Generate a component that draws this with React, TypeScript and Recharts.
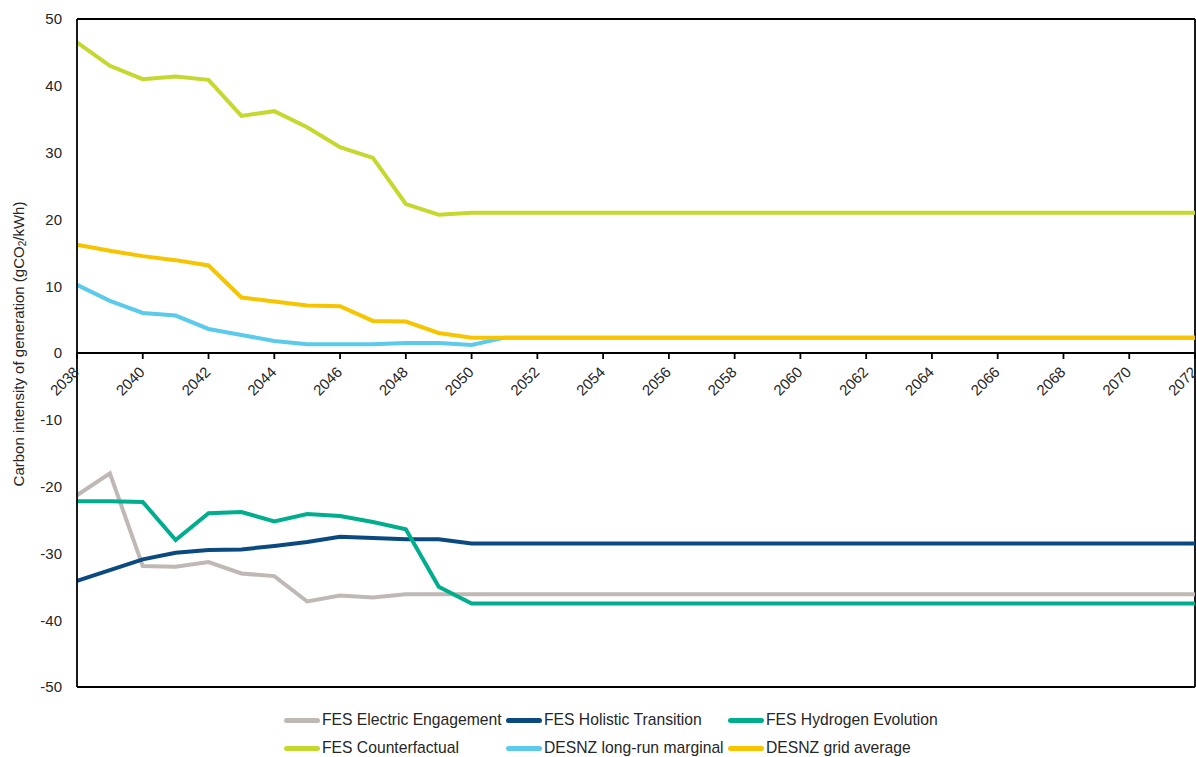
import React from 'react';
import { LineChart, Line, XAxis, YAxis, ReferenceLine, Legend } from 'recharts';

const years = [
  2038, 2039, 2040, 2041, 2042, 2043, 2044, 2045, 2046, 2047, 2048, 2049,
  2050, 2051, 2052, 2053, 2054, 2055, 2056, 2057, 2058, 2059, 2060, 2061,
  2062, 2063, 2064, 2065, 2066, 2067, 2068, 2069, 2070, 2071, 2072,
];
const yearTicks = [
  2038, 2040, 2042, 2044, 2046, 2048, 2050, 2052, 2054, 2056, 2058, 2060,
  2062, 2064, 2066, 2068, 2070, 2072,
];
const valueTicks = [-50, -40, -30, -20, -10, 0, 10, 20, 30, 40, 50];

const electricEngagement = [
  -21.3, -18.0, -31.9, -32.0, -31.3, -33.0, -33.4, -37.2, -36.3, -36.6, -36.1, -36.1,
  -36.1, -36.1, -36.1, -36.1, -36.1, -36.1, -36.1, -36.1, -36.1, -36.1, -36.1, -36.1,
  -36.1, -36.1, -36.1, -36.1, -36.1, -36.1, -36.1, -36.1, -36.1, -36.1, -36.1,
];
const holisticTransition = [
  -34.1, -32.5, -30.9, -29.9, -29.5, -29.4, -28.9, -28.3, -27.5, -27.7, -27.9, -27.9,
  -28.5, -28.5, -28.5, -28.5, -28.5, -28.5, -28.5, -28.5, -28.5, -28.5, -28.5, -28.5,
  -28.5, -28.5, -28.5, -28.5, -28.5, -28.5, -28.5, -28.5, -28.5, -28.5, -28.5,
];
const hydrogenEvolution = [
  -22.2, -22.2, -22.3, -28.0, -24.0, -23.8, -25.2, -24.1, -24.4, -25.3, -26.4, -35.0,
  -37.5, -37.5, -37.5, -37.5, -37.5, -37.5, -37.5, -37.5, -37.5, -37.5, -37.5, -37.5,
  -37.5, -37.5, -37.5, -37.5, -37.5, -37.5, -37.5, -37.5, -37.5, -37.5, -37.5,
];
const counterfactual = [
  46.5, 43.0, 41.0, 41.4, 40.9, 35.5, 36.2, 33.8, 30.8, 29.2, 22.3, 20.7,
  21.0, 21.0, 21.0, 21.0, 21.0, 21.0, 21.0, 21.0, 21.0, 21.0, 21.0, 21.0,
  21.0, 21.0, 21.0, 21.0, 21.0, 21.0, 21.0, 21.0, 21.0, 21.0, 21.0,
];
const longRunMarginal = [
  10.2, 7.8, 6.0, 5.6, 3.6, 2.7, 1.8, 1.3, 1.3, 1.3, 1.5, 1.5,
  1.2, 2.3, 2.3, 2.3, 2.3, 2.3, 2.3, 2.3, 2.3, 2.3, 2.3, 2.3,
  2.3, 2.3, 2.3, 2.3, 2.3, 2.3, 2.3, 2.3, 2.3, 2.3, 2.3,
];
const gridAverage = [
  16.2, 15.3, 14.5, 13.9, 13.1, 8.3, 7.7, 7.1, 7.0, 4.8, 4.7, 3.0,
  2.3, 2.3, 2.3, 2.3, 2.3, 2.3, 2.3, 2.3, 2.3, 2.3, 2.3, 2.3,
  2.3, 2.3, 2.3, 2.3, 2.3, 2.3, 2.3, 2.3, 2.3, 2.3, 2.3,
];

const seriesKeys = ['electric', 'holistic', 'hydrogen', 'counterfactual', 'lrm', 'grid'];
const seriesNames = [
  'FES Electric Engagement',
  'FES Holistic Transition',
  'FES Hydrogen Evolution',
  'FES Counterfactual',
  'DESNZ long-run marginal',
  'DESNZ grid average',
];
const seriesColors = ['#bfb8b5', '#0b4a80', '#00ae8e', '#c4d82e', '#5ccbeb', '#f6c500'];

const data = years.map((year, i) => ({
  year,
  electric: electricEngagement[i],
  holistic: holisticTransition[i],
  hydrogen: hydrogenEvolution[i],
  counterfactual: counterfactual[i],
  lrm: longRunMarginal[i],
  grid: gridAverage[i],
}));

const W = 1196;
const H = 757;
const PLOT_TOP = 19;
const PLOT_BOTTOM_GAP = 70;
const AXIS_W = 77;
const Y_MIN = -50;
const Y_MAX = 50;
const PLOT_H = H - PLOT_TOP - PLOT_BOTTOM_GAP;
const zeroY = PLOT_TOP + (PLOT_H * Y_MAX) / (Y_MAX - Y_MIN);

const FONT = '"Liberation Sans", Arial, sans-serif';
const TEXT = '#262626';

const YearTick = ({ x, payload }: any) => {
  const tx = x + 3;
  const ty = zeroY + 20;
  return (
    <g>
      <line x1={x} x2={x} y1={zeroY} y2={zeroY + 6} stroke="#000" strokeWidth={1.8} />
      <text
        x={tx}
        y={ty}
        transform={`rotate(-45 ${tx} ${ty})`}
        textAnchor="end"
        fontSize={15}
        fontFamily={FONT}
        fill={TEXT}
      >
        {payload.value}
      </text>
    </g>
  );
};

const YLabel = () => (
  <text
    x={18}
    y={344}
    transform="rotate(-90 18 344)"
    textAnchor="middle"
    dominantBaseline="central"
    fontSize={15}
    fontFamily={FONT}
    fill={TEXT}
  >
    Carbon intensity of generation (gCO
    <tspan fontSize={10} dy={4}>2</tspan>
    <tspan dy={-4}>/kWh)</tspan>
  </text>
);

const legendRows = [[0, 1, 2], [3, 4, 5]];

const LegendBox = () => (
  <div style={{ paddingLeft: 284, fontFamily: FONT, fontSize: 15.7, color: TEXT }}>
    {legendRows.map((row, r) => (
      <div key={r} style={{ display: 'flex', height: 28, alignItems: 'center' }}>
        {row.map((i) => (
          <div key={i} style={{ width: 222, display: 'flex', alignItems: 'center', whiteSpace: 'nowrap' }}>
            <span
              style={{
                display: 'inline-block',
                width: 36,
                height: 5,
                borderRadius: 2.5,
                background: seriesColors[i],
                marginRight: 2,
              }}
            />
            <span>{seriesNames[i]}</span>
          </div>
        ))}
      </div>
    ))}
  </div>
);

export default function App() {
  return (
    <div style={{ position: 'absolute', left: 0, top: 0, background: '#fff' }}>
      <LineChart
        width={W}
        height={H}
        data={data}
        margin={{ top: PLOT_TOP, right: 1, bottom: PLOT_BOTTOM_GAP - 1, left: 0 }}
      >
        <XAxis
          dataKey="year"
          type="number"
          domain={[2038, 2072]}
          ticks={yearTicks}
          interval={0}
          height={1}
          axisLine={false}
          tickLine={false}
          tick={<YearTick />}
        />
        <YAxis
          domain={[Y_MIN, Y_MAX]}
          ticks={valueTicks}
          width={AXIS_W}
          tickLine={false}
          tickSize={0}
          tickMargin={15}
          axisLine={{ stroke: '#000', strokeWidth: 1.8 }}
          tick={{ fontSize: 15, fontFamily: FONT, fill: TEXT }}
          label={<YLabel />}
        />
        <ReferenceLine y={Y_MAX} stroke="#000" strokeWidth={1.8} />
        <ReferenceLine y={Y_MIN} stroke="#000" strokeWidth={1.8} />
        <ReferenceLine x={2072} stroke="#000" strokeWidth={1.8} />
        <ReferenceLine y={0} stroke="#000" strokeWidth={1.8} />
        {seriesKeys.map((k, i) => (
          <Line
            key={k}
            type="linear"
            dataKey={k}
            name={seriesNames[i]}
            stroke={seriesColors[i]}
            strokeWidth={4}
            dot={false}
            activeDot={false}
            isAnimationActive={false}
          />
        ))}
        <Legend
          layout="horizontal"
          verticalAlign="middle"
          align="center"
          wrapperStyle={{ top: 706, left: 0, width: W }}
          content={<LegendBox />}
        />
      </LineChart>
    </div>
  );
}
